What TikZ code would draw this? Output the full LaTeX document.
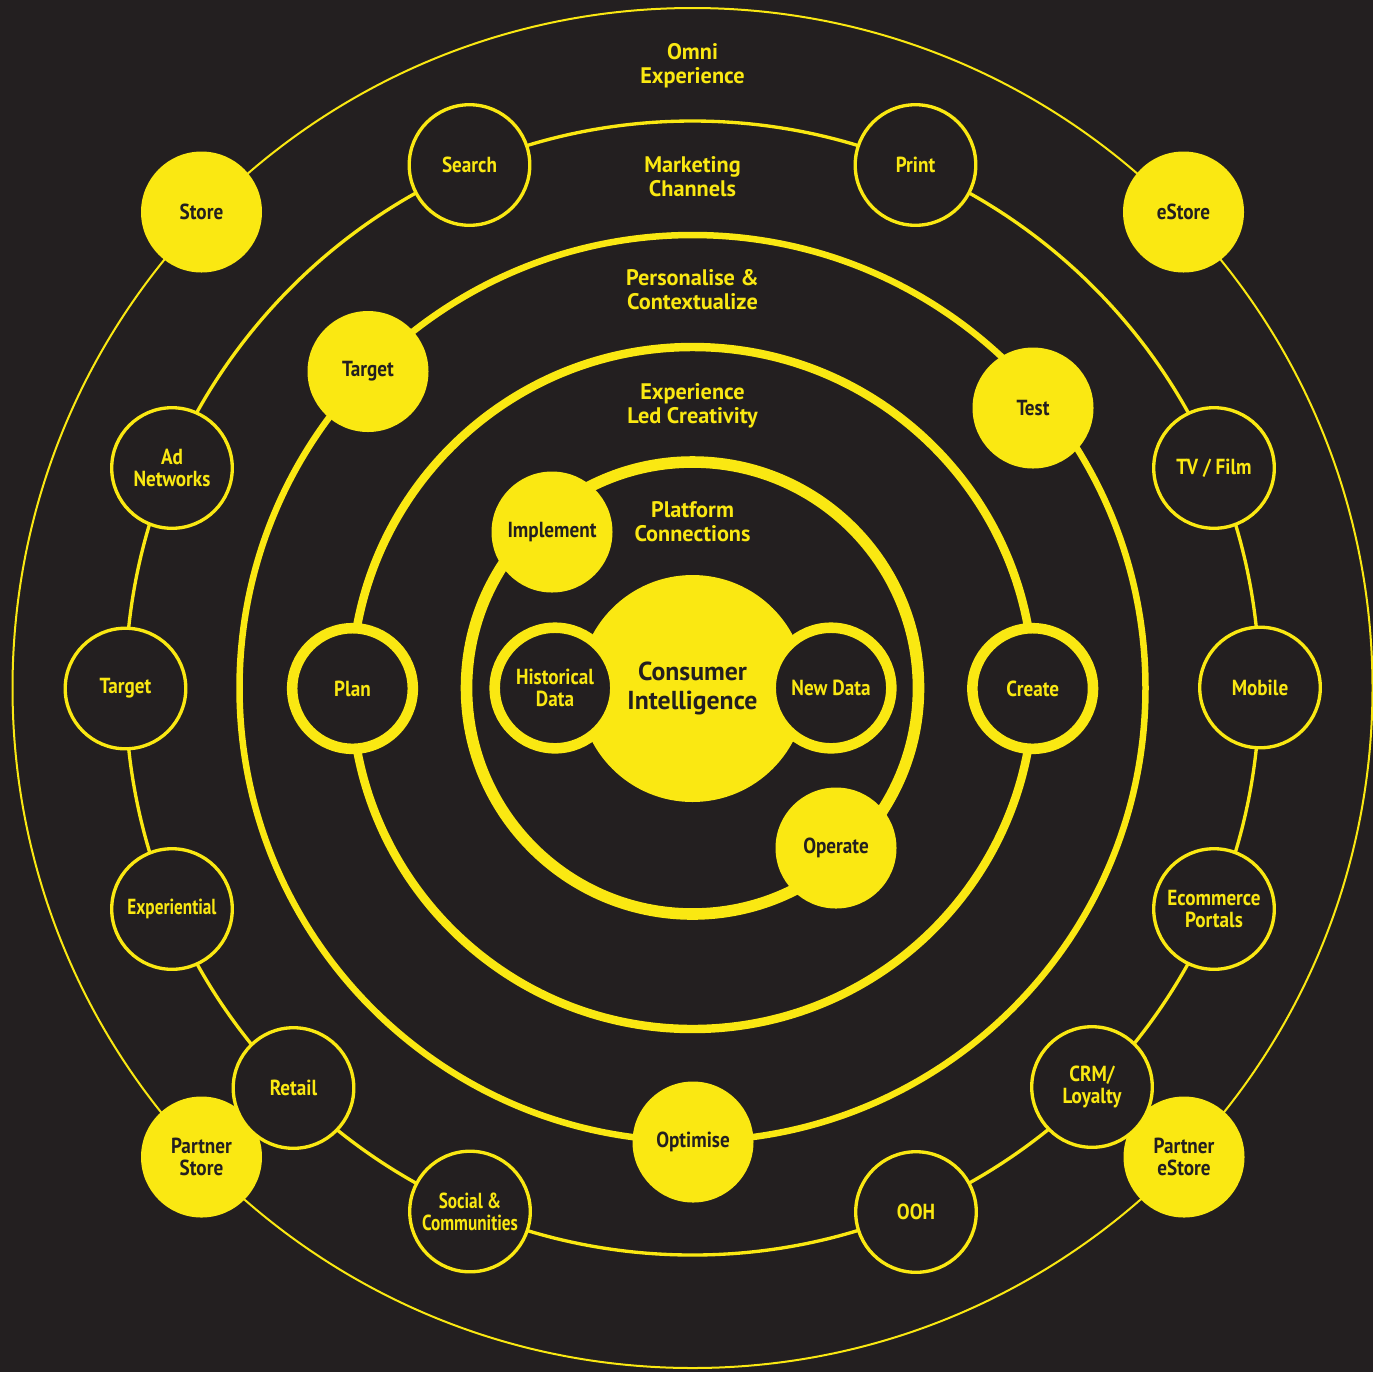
\documentclass[tikz,border=0pt]{standalone}
\usepackage{fontspec}
\setmainfont{PT Sans}
\newfontfamily\titlefamily{PT Sans Bold}[FakeStretch=0.99]
\newfontfamily\circfamily{PT Sans Bold}[FakeStretch=0.88]
\newfontfamily\narrowfamily{PT Sans Bold}[FakeStretch=0.79]
\usepackage{tikz}
\definecolor{sunyellow}{RGB}{250,232,18}
\definecolor{inkdark}{RGB}{35,31,32}
\newcommand{\circfont}{\circfamily\fontsize{6.2}{6.2}\selectfont}
\newcommand{\narrowfont}{\narrowfamily\fontsize{6.2}{6.2}\selectfont}
\newcommand{\titlefont}{\titlefamily\fontsize{6.4}{6.8}\selectfont}
\newcommand{\corefont}{\titlefamily\fontsize{7.4}{8.3}\selectfont}
\tikzset{
  ring/.style={draw=sunyellow},
  ringtitle/.style={text=sunyellow, align=center, inner sep=0pt, font=\titlefont},
  fullcircle/.style={circle, fill=sunyellow, text=inkdark, minimum size=12.1mm, inner sep=0pt, align=center, font=\circfont},
  hollowcircle/.style={circle, draw=sunyellow, fill=inkdark, text=sunyellow, line width=0.95pt, minimum size=12.06mm, inner sep=0pt, align=center, font=\circfont},
  thickcircle/.style={hollowcircle, line width=3pt},
}

\begin{document}
\begin{tikzpicture}[x=0.1mm, y=-0.1mm]
\useasboundingbox (0,0) rectangle (1373,1372);
\fill[inkdark] (0,0) rectangle (1373,1372);
\coordinate (ctr) at (692.5,688);

%Rings
\draw[ring, line width=0.57pt] (ctr) circle[radius=68mm];
\draw[ring, line width=0.95pt] (ctr) circle[radius=56.7mm];
\draw[ring, line width=1.85pt] (ctr) circle[radius=45.3mm];
\draw[ring, line width=2.4pt] (ctr) circle[radius=34.1mm];
\draw[ring, line width=3.3pt] (ctr) circle[radius=22.6mm];

%Ring titles
\node[ringtitle] (omni) at (692.5,65.5) {Omni\\Experience};
\node[ringtitle] (channels) at (692.5,177) {Marketing\\Channels};
\node[ringtitle] (personalise) at (692.5,289.5) {Personalise \&\\Contextualize};
\node[ringtitle] (creativity) at (692.5,405.5) {Experience\\Led Creativity};
\node[ringtitle] (platform) at (692.5,522) {Platform\\Connections};

%Omni experience nodes
\node[fullcircle] (store) at (201.5,212) {Store};
\node[fullcircle] (estore) at (1183.5,212) {eStore};
\node[fullcircle] (pstore) at (201.5,1157) {Partner\\Store};
\node[fullcircle] (pestore) at (1184,1157) {Partner\\eStore};

%Marketing channel nodes
\node[hollowcircle] (search) at (469.5,165) {Search};
\node[hollowcircle] (print) at (915.5,165) {Print};
\node[hollowcircle] (tvfilm) at (1214,468) {TV / Film};
\node[hollowcircle] (mobile) at (1260,687.5) {Mobile};
\node[hollowcircle] (ecom) at (1214,909) {Ecommerce\\Portals};
\node[hollowcircle] (crm) at (1092,1087) {CRM/\\Loyalty};
\node[hollowcircle] (ooh) at (916,1212) {OOH};
\node[hollowcircle, font=\narrowfont] (social) at (470,1211.5) {Social \&\\Communities};
\node[hollowcircle] (retail) at (293.5,1088) {Retail};
\node[hollowcircle, font=\narrowfont] (experiential) at (172,909) {Experiential};
\node[hollowcircle] (mtarget) at (125.5,688.5) {Target};
\node[hollowcircle] (adnet) at (172,468) {Ad\\Networks};

%Personalise nodes
\node[fullcircle] (ptarget) at (368,371.5) {Target};
\node[fullcircle] (test) at (1033,408) {Test};
\node[fullcircle] (optimise) at (693,1142) {Optimise};

%Creativity nodes
\node[thickcircle] (plan) at (352.5,688.5) {Plan};
\node[thickcircle] (create) at (1032.7,688.5) {Create};

%Platform nodes
\node[fullcircle] (implement) at (552,532) {Implement};
\node[fullcircle] (operate) at (836,848) {Operate};

%Core
\node[fullcircle, minimum size=22.7mm, font=\corefont] (consumer) at (692.5,688.5) {Consumer\\Intelligence};
\node[thickcircle] (hist) at (555,688) {Historical\\Data};
\node[thickcircle] (newdata) at (831,688) {New Data};
\end{tikzpicture}
\end{document}
